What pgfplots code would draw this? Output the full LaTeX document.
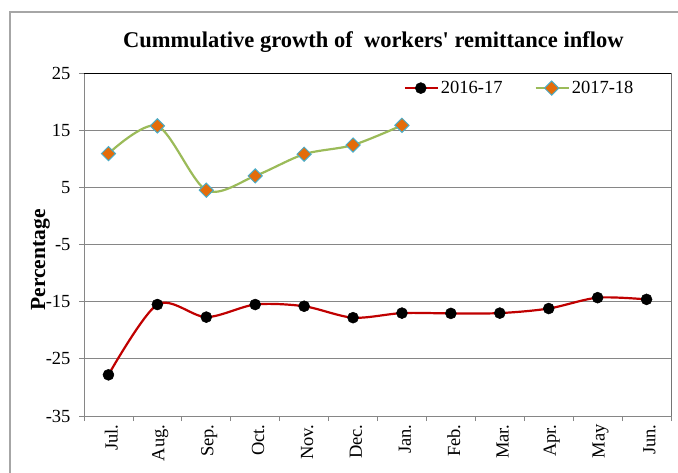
\documentclass[border=0pt]{standalone}
\usepackage{fontspec}
\setmainfont{Liberation Serif}[Ligatures=TeXOff]
\usepackage{pgfplots}
\pgfplotsset{compat=1.18}
\definecolor{redline}{HTML}{C00000}
\definecolor{greenline}{HTML}{9BBB59}
\definecolor{orangemk}{HTML}{E46C0A}
\definecolor{bluemk}{HTML}{4BACC6}
\definecolor{gridgray}{HTML}{868686}
\definecolor{framegray}{HTML}{A6A6A6}

\begin{document}
\begin{tikzpicture}[x=1pt,y=1pt]
\path[use as bounding box] (0,0) rectangle (678,472);
\draw[framegray, line width=1.2pt] (10,-20) rectangle (700,460);
\begin{axis}[
  at={(84pt,56pt)}, anchor=south west,
  scale only axis,
  width=587pt, height=343pt,
  xmin=-0.5, xmax=11.5,
  ymin=-35, ymax=25,
  ytick={-35,-25,...,25},
  xtick={0,...,11},
  xticklabels={Jul.,Aug.,Sep.,Oct.,Nov.,Dec.,Jan.,Feb.,Mar.,Apr.,May,Jun.},
  minor xtick={-0.5,0.5,...,11.5},
  major x tick style={draw=none},
  minor tick length=5pt,
  major tick length=5pt,
  tick align=outside,
  tick pos=left,
  tick style={gridgray, line width=0.8pt},
  axis line style={gridgray, line width=1pt},
  ymajorgrids=true,
  grid style={gridgray, line width=0.8pt},
  /pgf/number format/assume math mode=true,
  yticklabel style={font=\fontsize{18.5}{20}\selectfont, xshift=-5pt},
  xticklabel style={rotate=90, anchor=east, yshift=-3pt, font=\fontsize{18.5}{20}\selectfont},
  ylabel={\textbf{Percentage}},
  ylabel style={font=\fontsize{21.5}{24}\selectfont, at={(axis description cs:-0.074,0.455)}, anchor=center, rotate=0},
  title={\textbf{Cummulative growth of \ workers' remittance inflow}},
  title style={font=\fontsize{22.5}{24}\selectfont, at={(axis description cs:0.493,1.072)}, anchor=center},
  legend columns=2,
  legend style={draw=none, fill=none, font=\fontsize{18.5}{20}\selectfont,
    at={(axis description cs:0.742,0.956)}, anchor=center,
    /tikz/every even column/.append style={column sep=30pt}},
  legend image code/.code={
    \draw[mark repeat=2, mark phase=2] plot coordinates {(0pt,0pt) (16pt,0pt) (33pt,0pt)};
  },
]
\draw[black, line width=1pt] (rel axis cs:0,1) -- (rel axis cs:1,1) -- (rel axis cs:1,0);
\addplot[redline, line width=2.2pt, smooth, mark=*, mark size=5.5pt,
  mark options={black, fill=black, line width=0.5pt}]
  coordinates {
  (0,-27.8) (1,-15.5) (2,-17.7) (3,-15.5) (4,-15.8) (5,-17.8)
  (6,-17.0) (7,-17.05) (8,-17.0) (9,-16.2) (10,-14.3) (11,-14.6)
};
\addlegendentry{2016-17}
\addplot[greenline, line width=2.2pt, smooth, mark=square*, mark size=5pt,
  mark options={rotate=45, draw=bluemk, fill=orangemk, line width=1pt}]
  coordinates {
  (0,10.9) (1,15.75) (2,4.5) (3,7.0) (4,10.8) (5,12.4) (6,15.85)
};
\addlegendentry{2017-18}
\end{axis}
\end{tikzpicture}
\end{document}
